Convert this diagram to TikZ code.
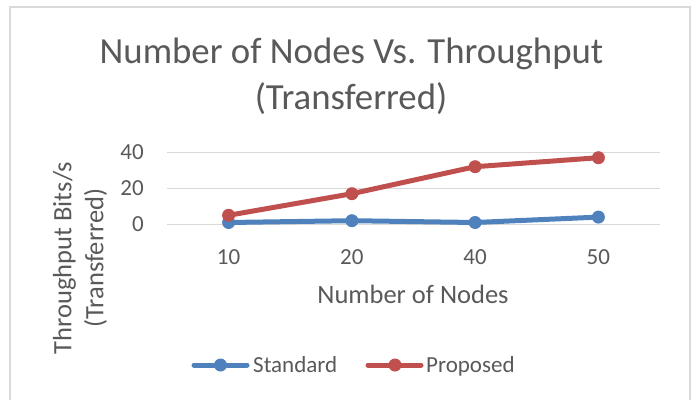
\documentclass[tikz,border=0pt]{standalone}
\usepackage{fontspec}
\setmainfont{Carlito}
\definecolor{txt}{RGB}{89, 89, 89}
\definecolor{grid}{RGB}{217, 217, 217}
\definecolor{stdblue}{RGB}{79, 129, 189}
\definecolor{propred}{RGB}{192, 80, 77}

\begin{document}
\begin{tikzpicture}[x=1pt, y=-1pt,
markernode/.style={circle, inner sep=0pt, minimum size=13pt},
ticklabel/.style={font=\fontsize{23}{28}\selectfont, text=txt, inner sep=0pt},
axistitle/.style={font=\fontsize{26.5}{32}\selectfont, text=txt, inner sep=0pt},
titletext/.style={font=\fontsize{36.8}{46}\selectfont, text=txt, anchor=base, inner sep=0pt},
series/.style={line width=5pt, line join=round, line cap=round},
]
\useasboundingbox (0,0) rectangle (696,399);
\draw[grid, line width=1.5pt] (10,7) rectangle (690,420);

%Title
\node[titletext] (title1) at (351.5,63) {Number of Nodes Vs. Throughput};
\node[titletext] (title2) at (351,109) {(Transferred)};

%Grid
\draw[grid, line width=1.5pt] (167,224.3) -- (660,224.3);
\draw[grid, line width=1.5pt] (167,188.3) -- (660,188.3);
\draw[grid, line width=1.5pt] (167,152.3) -- (660,152.3);

%Ticks
\node[ticklabel, anchor=east] (y0)  at (144,224.5) {0};
\node[ticklabel, anchor=east] (y20) at (144,188.5) {20};
\node[ticklabel, anchor=east] (y40) at (144,152.5) {40};

\node[ticklabel] (x10) at (228.6,257) {10};
\node[ticklabel] (x20) at (351.9,257) {20};
\node[ticklabel] (x40) at (475.1,257) {40};
\node[ticklabel] (x50) at (598.4,257) {50};

%Axis titles
\node[axistitle, anchor=base] (xtitle) at (413,303) {Number of Nodes};
\node[axistitle, rotate=90, align=center] (ytitle) at (80,258) {Throughput Bits/s\\(Transferred)};

%Standard
\node[markernode, fill=stdblue] (s1) at (228.6,222.5) {};
\node[markernode, fill=stdblue] (s2) at (351.9,220.7) {};
\node[markernode, fill=stdblue] (s3) at (475.1,222.5) {};
\node[markernode, fill=stdblue] (s4) at (598.4,217.1) {};
\draw[series, stdblue] (s1.center) -- (s2.center) -- (s3.center) -- (s4.center);

%Proposed
\node[markernode, fill=propred] (p1) at (228.6,215.3) {};
\node[markernode, fill=propred] (p2) at (351.9,193.7) {};
\node[markernode, fill=propred] (p3) at (475.1,166.7) {};
\node[markernode, fill=propred] (p4) at (598.4,157.7) {};
\draw[series, propred] (p1.center) -- (p2.center) -- (p3.center) -- (p4.center);

%Legend
\coordinate (ls1) at (194,365);
\coordinate (ls2) at (247,365);
\node[markernode, fill=stdblue] (lsm) at (220.5,365) {};
\draw[series, stdblue] (ls1) -- (lsm) -- (ls2);
\node[ticklabel, anchor=base west] (lstd) at (253,372.7) {Standard};

\coordinate (lp1) at (368,365);
\coordinate (lp2) at (421,365);
\node[markernode, fill=propred] (lpm) at (395,365) {};
\draw[series, propred] (lp1) -- (lpm) -- (lp2);
\node[ticklabel, anchor=base west] (lprop) at (426,372.7) {Proposed};

\end{tikzpicture}
\end{document}
